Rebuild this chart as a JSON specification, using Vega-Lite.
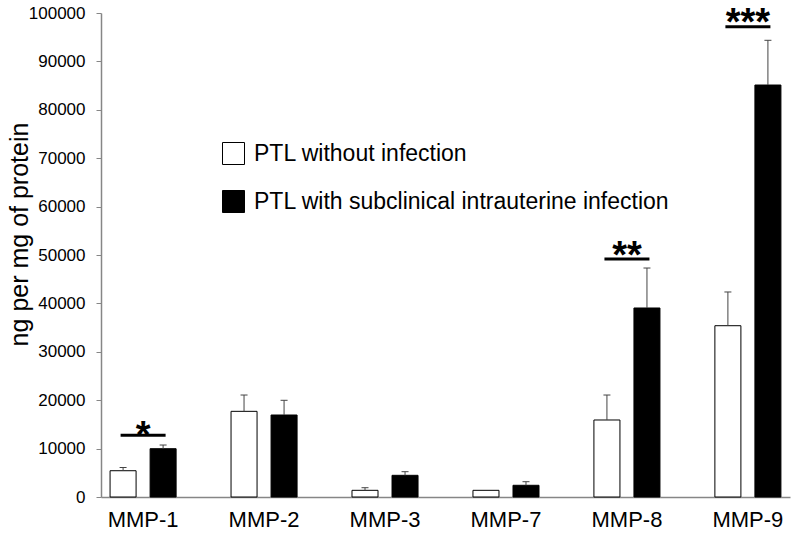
{
  "$schema": "https://vega.github.io/schema/vega-lite/v6.json",
  "width": 689,
  "height": 484,
  "autosize": {"type": "none"},
  "padding": {"left": 101, "top": 13, "right": 5, "bottom": 38},
  "config": {"view": {"stroke": null}, "font": "Liberation Sans"},
  "datasets": {
    "bars": [
      {"mmp": "MMP-1", "group": "PTL without infection", "mean": 5430, "upper": 6100},
      {"mmp": "MMP-1", "group": "PTL with subclinical intrauterine infection", "mean": 9980, "upper": 10740},
      {"mmp": "MMP-2", "group": "PTL without infection", "mean": 17700, "upper": 21070},
      {"mmp": "MMP-2", "group": "PTL with subclinical intrauterine infection", "mean": 16940, "upper": 19980},
      {"mmp": "MMP-3", "group": "PTL without infection", "mean": 1380, "upper": 1920},
      {"mmp": "MMP-3", "group": "PTL with subclinical intrauterine infection", "mean": 4480, "upper": 5230},
      {"mmp": "MMP-7", "group": "PTL without infection", "mean": 1380, "upper": null},
      {"mmp": "MMP-7", "group": "PTL with subclinical intrauterine infection", "mean": 2420, "upper": 3160},
      {"mmp": "MMP-8", "group": "PTL without infection", "mean": 15910, "upper": 21070},
      {"mmp": "MMP-8", "group": "PTL with subclinical intrauterine infection", "mean": 39050, "upper": 47310},
      {"mmp": "MMP-9", "group": "PTL without infection", "mean": 35390, "upper": 42360},
      {"mmp": "MMP-9", "group": "PTL with subclinical intrauterine infection", "mean": 85120, "upper": 94360}
    ],
    "sig": [
      {"mmp": "MMP-1", "line": 12750, "star": 14520, "label": "*"},
      {"mmp": "MMP-8", "line": 49170, "star": 51650, "label": "**"},
      {"mmp": "MMP-9", "line": 97170, "star": 99790, "label": "***"}
    ]
  },
  "layer": [
    {
      "data": {"name": "bars"},
      "mark": {"type": "bar", "stroke": "black", "strokeWidth": 1, "opacity": 1},
      "encoding": {
        "x": {
          "field": "mmp", "type": "nominal", "sort": ["MMP-1", "MMP-2", "MMP-3", "MMP-7", "MMP-8", "MMP-9"],
          "scale": {"paddingInner": 0.454, "paddingOuter": 0.075},
          "axis": {"title": null, "labelFontSize": 22, "labelColor": "black", "ticks": false, "tickSize": 0, "labelPadding": 12, "labelAngle": 0, "domainColor": "#868686", "domainWidth": 1.5}
        },
        "xOffset": {
          "field": "group", "type": "nominal",
          "sort": ["PTL without infection", "PTL with subclinical intrauterine infection"],
          "scale": {"paddingInner": 0.35, "paddingOuter": 0}
        },
        "y": {
          "field": "mean", "type": "quantitative",
          "scale": {"domain": [0, 100000], "nice": false},
          "axis": {
            "values": [0, 10000, 20000, 30000, 40000, 50000, 60000, 70000, 80000, 90000, 100000],
            "format": "d", "grid": false,
            "labelFontSize": 17, "labelColor": "black", "labelPadding": 11,
            "tickSize": 5, "tickColor": "#868686", "domainColor": "#868686", "domainWidth": 1.5,
            "title": "ng per mg of protein", "titleFontSize": 25, "titleFontWeight": "normal", "titleColor": "black",
            "titleX": -74, "titleY": 221, "titleBaseline": "alphabetic", "titleAlign": "center"
          }
        },
        "color": {
          "field": "group", "type": "nominal",
          "scale": {"domain": ["PTL without infection", "PTL with subclinical intrauterine infection"], "range": ["white", "black"]},
          "legend": {
            "title": null, "orient": "none", "legendX": 121, "legendY": 129,
            "symbolType": "square", "symbolSize": 484, "symbolStrokeColor": "black", "symbolStrokeWidth": 1, "symbolOpacity": 1,
            "labelFontSize": 23, "labelColor": "black", "labelOffset": 9, "rowPadding": 21, "padding": 0, "labelLimit": 600
          }
        }
      }
    },
    {
      "data": {"name": "bars"},
      "transform": [{"filter": "datum.upper != null"}],
      "mark": {"type": "rule", "color": "#444444", "strokeWidth": 1, "opacity": 1},
      "encoding": {
        "x": {"field": "mmp", "type": "nominal", "sort": ["MMP-1", "MMP-2", "MMP-3", "MMP-7", "MMP-8", "MMP-9"]},
        "xOffset": {"field": "group", "type": "nominal", "sort": ["PTL without infection", "PTL with subclinical intrauterine infection"]},
        "y": {"field": "mean", "type": "quantitative"},
        "y2": {"field": "upper"}
      }
    },
    {
      "data": {"name": "bars"},
      "transform": [{"filter": "datum.upper != null"}],
      "mark": {"type": "tick", "color": "#444444", "size": 7, "thickness": 1, "orient": "horizontal", "opacity": 1},
      "encoding": {
        "x": {"field": "mmp", "type": "nominal", "sort": ["MMP-1", "MMP-2", "MMP-3", "MMP-7", "MMP-8", "MMP-9"]},
        "xOffset": {"field": "group", "type": "nominal", "sort": ["PTL without infection", "PTL with subclinical intrauterine infection"]},
        "y": {"field": "upper", "type": "quantitative"}
      }
    },
    {
      "data": {"name": "sig"},
      "mark": {"type": "tick", "color": "black", "size": 45, "thickness": 3, "orient": "horizontal", "opacity": 1},
      "encoding": {
        "x": {"field": "mmp", "type": "nominal", "sort": ["MMP-1", "MMP-2", "MMP-3", "MMP-7", "MMP-8", "MMP-9"]},
        "y": {"field": "line", "type": "quantitative"}
      }
    },
    {
      "data": {"name": "sig"},
      "mark": {"type": "text", "color": "black", "fontSize": 38, "fontWeight": "bold", "baseline": "middle", "align": "center", "dy": 10},
      "encoding": {
        "x": {"field": "mmp", "type": "nominal", "sort": ["MMP-1", "MMP-2", "MMP-3", "MMP-7", "MMP-8", "MMP-9"]},
        "y": {"field": "star", "type": "quantitative"},
        "text": {"field": "label"}
      }
    }
  ]
}
